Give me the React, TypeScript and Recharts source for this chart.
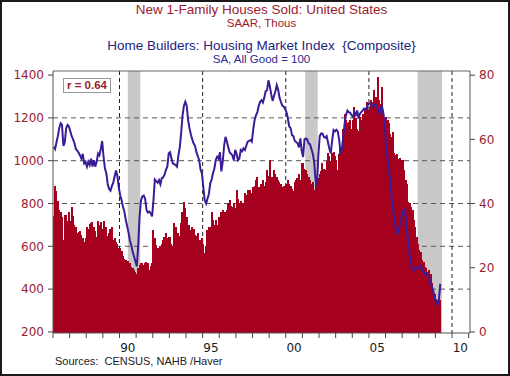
import React from 'react';
import { ComposedChart, Bar, Line, XAxis, YAxis, CartesianGrid, ReferenceArea, ReferenceLine } from 'recharts';

// monthly values, one row per year starting 1986 (2009 is partial)
const firstYear = 1986;

const homeSales: number[][] = [
  [740, 880, 860, 810, 770, 760, 735, 630, 745, 745, 720, 760],
  [720, 785, 740, 700, 690, 660, 665, 670, 655, 640, 620, 640],
  [690, 680, 705, 710, 715, 690, 670, 645, 720, 700, 715, 680],
  [720, 570, 690, 650, 660, 680, 690, 630, 640, 620, 610, 590],
  [590, 580, 555, 540, 535, 530, 530, 520, 505, 500, 490, 480],
  [470, 500, 515, 520, 520, 515, 520, 525, 520, 490, 510, 520],
  [676, 640, 605, 590, 582, 600, 613, 630, 645, 660, 640, 645],
  [645, 613, 600, 707, 690, 652, 660, 650, 707, 760, 808, 780],
  [738, 690, 700, 676, 690, 680, 652, 650, 660, 630, 629, 640],
  [613, 567, 600, 676, 690, 690, 761, 722, 700, 722, 700, 738],
  [738, 760, 770, 753, 760, 770, 800, 815, 790, 785, 800, 780],
  [862, 820, 800, 810, 800, 800, 847, 840, 862, 830, 862, 850],
  [878, 880, 909, 925, 878, 850, 893, 909, 880, 900, 956, 930],
  [1003, 925, 925, 956, 940, 925, 909, 900, 893, 878, 880, 878],
  [893, 909, 890, 880, 870, 860, 900, 909, 920, 940, 910, 987],
  [990, 960, 956, 940, 925, 910, 893, 900, 862, 909, 909, 920],
  [940, 950, 987, 960, 956, 1000, 1034, 1020, 1000, 1034, 1041, 1020],
  [1003, 956, 1030, 1065, 1065, 1150, 1220, 1190, 1174, 1180, 1189, 1150],
  [1189, 1252, 1200, 1150, 1140, 1205, 1190, 1220, 1210, 1236, 1275, 1236],
  [1252, 1283, 1275, 1330, 1267, 1298, 1389, 1283, 1267, 1345, 1236, 1190],
  [1205, 1190, 1174, 1127, 1112, 1135, 1034, 1026, 1030, 1010, 1012, 1003],
  [1003, 956, 909, 893, 808, 800, 785, 770, 722, 690, 645, 613],
  [582, 574, 535, 528, 505, 497, 480, 490, 470, 430, 400, 375],
  [355, 350, 360, 350],
];

const hmi: number[][] = [
  [57.7, 57, 59, 61, 63.5, 65, 64.5, 58, 59, 63.5, 64.5, 64],
  [62.5, 61, 60, 58.8, 57, 56.5, 55.8, 55, 54, 55.5, 52.5, 53],
  [51.5, 53, 52, 54, 51.5, 53.5, 51.5, 53, 55.6, 55, 57, 59.5],
  [54.5, 51, 49.4, 46, 44.5, 44, 45.5, 46.5, 48.5, 50.3, 48.5, 45],
  [42.5, 41, 39, 37.5, 35, 33, 31, 28.5, 27, 25, 23.5, 22],
  [20.4, 27, 36, 41, 42.3, 42.5, 41.5, 38, 37.2, 37.5, 37, 36],
  [41, 47.5, 47, 46.5, 47.3, 46, 47.9, 48.2, 49, 50.5, 51.5, 55.6],
  [56, 54, 52.5, 52.3, 52, 51.5, 55, 57.5, 62, 67.5, 70.5, 71.7],
  [70.5, 66, 63.5, 61.5, 60, 58.7, 58, 56, 54.8, 53.5, 50.5, 49.4],
  [45, 41, 40, 41.5, 43, 46.3, 47.5, 49.5, 51, 53.6, 54.6, 54],
  [56, 50, 53, 58, 60.8, 59.3, 57.5, 56, 55.5, 55, 53.5, 56.7],
  [55.5, 53.5, 54, 56.7, 56.3, 57.2, 56.7, 58, 59.3, 59.5, 59.8, 59.3],
  [63, 66, 67.5, 68.5, 70.5, 71.7, 72.2, 71.5, 73, 75, 75.3, 78.4],
  [76.5, 74, 72, 73.5, 75, 76.9, 75.5, 73, 71.7, 70.5, 70.2, 69.5],
  [68.5, 66.5, 64, 63.5, 61.3, 61, 59.5, 59.2, 58.8, 57.5, 60.3, 56.5],
  [54.5, 60, 60.3, 60, 58.7, 58.5, 57, 55.5, 53, 47.3, 45.5, 55],
  [61, 61.8, 61.8, 60.8, 60.5, 61, 59, 57, 55.6, 59.8, 62.9, 62.5],
  [63, 62.5, 60, 56, 57, 61, 65, 67.6, 69, 68.5, 68.3, 67.5],
  [67, 68.5, 67.6, 69, 66.5, 68, 68.5, 69, 69.6, 69.1, 70, 71],
  [71.2, 70.8, 70.2, 70.8, 71, 70.7, 69.2, 68.1, 69.6, 70.2, 68, 64],
  [57.5, 54, 50.5, 46, 42.2, 38, 34.5, 31.5, 30.5, 32, 33.5, 36],
  [37.5, 38, 36, 31, 27.6, 23.5, 21, 19.5, 19.2, 19.5, 19.9, 20],
  [20, 20.5, 19.5, 18.3, 18, 18.3, 17.3, 17, 15.5, 14, 12.6, 11],
  [9, 8.5, 10, 15],
];

const recessions: [number, number][] = [
  [1990.5, 1991.25],
  [2001.17, 2001.92],
  [2007.92, 2009.4],
];

const leftTicks = [200, 400, 600, 800, 1000, 1200, 1400];
const rightTicks = [0, 20, 40, 60, 80];
const gridLevels = [400, 600, 800, 1000, 1200];
const decadeLines = [1990, 1995, 2000, 2005, 2010];
const yearTicks = Array.from({ length: 26 }, (_, i) => firstYear + i);

const xDomain = [1986, 2011.08];
const leftDomain = [195, 1419];
const rightDomain = [-0.33, 81.3];

const rows = homeSales.flatMap((yr, yi) =>
  yr.map((v, m) => ({
    t: firstYear + yi + (m + 0.5) / 12,
    sales: v,
    hmi: hmi[yi][m],
  }))
);

const RED = '#9b1b30';
const NAVY = '#24237e';
const BAR = '#a6001f';
const axisFont = '"DejaVu Sans", Verdana, sans-serif';

const chartW = 510;
const margin = { top: 71, right: 4, bottom: 15, left: 3 };
const leftAxisW = 50;
const rightAxisW = 36;
const plotW = chartW - margin.left - margin.right - leftAxisW - rightAxisW;
const halfYearPx = plotW / (xDomain[1] - xDomain[0]) / 2;

// ticks every Jan 1, two-digit label every 5 years centred on the middle of that year
const YearTick = (props: any) => {
  const { x, y, payload } = props;
  const yr = payload.value;
  if (yr % 5 !== 0) return null;
  return (
    <text x={x + halfYearPx} y={y} dy="0.71em" textAnchor="middle" fill="#1a1a1a" fontSize={12} fontFamily={axisFont}>
      {String(yr).slice(2)}
    </text>
  );
};

// monthly bars sit edge to edge; draw them pixel-snapped and a bit wider so no hairline seams show
const SolidBar = (props: any) => {
  const { x, y, width, height } = props;
  if (!height || height <= 0) return null;
  const cx = x + width / 2;
  return <rect x={cx - 1} y={y} width={2} height={height} fill={BAR} shapeRendering="crispEdges" />;
};

const App: React.FC = () => {
  return (
    <div style={{ position: 'absolute', left: 0, top: 0, width: 510, height: 376, background: '#fff', fontFamily: 'Arial, "Liberation Sans", sans-serif' }}>
      <ComposedChart width={chartW} height={376} data={rows} margin={margin}>
        {recessions.map(([a, b]) => (
          <ReferenceArea key={a} xAxisId="yr" yAxisId="left" x1={a} x2={b} fill="#c8c8c8" fillOpacity={1} stroke="none" zIndex={-200} />
        ))}
        <CartesianGrid xAxisId="yr" yAxisId="left" vertical={false} horizontalValues={gridLevels} stroke="#555" strokeDasharray="5 4" />
        <CartesianGrid xAxisId="yr" yAxisId="left" horizontal={false} verticalValues={decadeLines} stroke="#222" strokeDasharray="4 3" />
        <XAxis xAxisId="yr" type="number" dataKey="t" domain={xDomain} allowDataOverflow ticks={yearTicks} tick={YearTick}
          interval={0} tickSize={5} tickMargin={5} height={28} axisLine={{ stroke: '#555' }} tickLine={{ stroke: '#444' }} />
        <YAxis yAxisId="left" orientation="left" width={leftAxisW} domain={leftDomain} allowDataOverflow ticks={leftTicks}
          tickSize={5} tickMargin={4} axisLine={{ stroke: '#555' }} tickLine={{ stroke: '#444' }}
          tick={{ fill: RED, fontSize: 12, fontFamily: axisFont }} />
        <YAxis yAxisId="right" orientation="right" width={rightAxisW} domain={rightDomain} allowDataOverflow ticks={rightTicks}
          tickSize={5} tickMargin={4} axisLine={{ stroke: '#555' }} tickLine={{ stroke: '#444' }}
          tick={{ fill: RED, fontSize: 12, fontFamily: axisFont, textAnchor: 'start' }} />
        <ReferenceLine xAxisId="yr" yAxisId="left" y={leftDomain[1]} stroke="#666" />
        <Bar xAxisId="yr" yAxisId="left" dataKey="sales" fill={BAR} shape={SolidBar} isAnimationActive={false} />
        <Line xAxisId="yr" yAxisId="right" dataKey="hmi" type="linear" stroke="#3b1c98" strokeWidth={2} dot={false} isAnimationActive={false} />
      </ComposedChart>

      <div style={{ position: 'absolute', left: 261.5, top: 3, transform: 'translateX(-50%)', whiteSpace: 'nowrap', fontSize: 13.5, lineHeight: 1, color: RED }}>
        New 1-Family Houses Sold: United States
      </div>
      <div style={{ position: 'absolute', left: 261.5, top: 17.5, transform: 'translateX(-50%)', whiteSpace: 'nowrap', fontSize: 11.5, lineHeight: 1, color: RED }}>
        SAAR, Thous
      </div>
      <div style={{ position: 'absolute', left: 261.5, top: 38.6, transform: 'translateX(-50%)', whiteSpace: 'pre', fontSize: 13.5, lineHeight: 1, color: NAVY }}>
        {'Home Builders: Housing Market Index  {Composite}'}
      </div>
      <div style={{ position: 'absolute', left: 261.5, top: 53.6, transform: 'translateX(-50%)', whiteSpace: 'nowrap', fontSize: 11.5, lineHeight: 1, color: '#2a2a8c' }}>
        SA, All Good = 100
      </div>
      <div style={{ position: 'absolute', left: 63, top: 78, width: 46, height: 13, border: '1px solid #999', background: '#fff', color: RED, fontSize: 11.5, fontWeight: 'bold', lineHeight: '13px', textAlign: 'center' }}>
        r = 0.64
      </div>
      <div style={{ position: 'absolute', left: 55, top: 355.5, whiteSpace: 'pre', fontSize: 11, lineHeight: 1, color: '#222' }}>
        {'Sources:  CENSUS, NAHB /Haver'}
      </div>
      <div style={{ position: 'absolute', inset: 0, border: '2px solid #1a1a1a', boxSizing: 'border-box', pointerEvents: 'none' }} />
    </div>
  );
};

export default App;
